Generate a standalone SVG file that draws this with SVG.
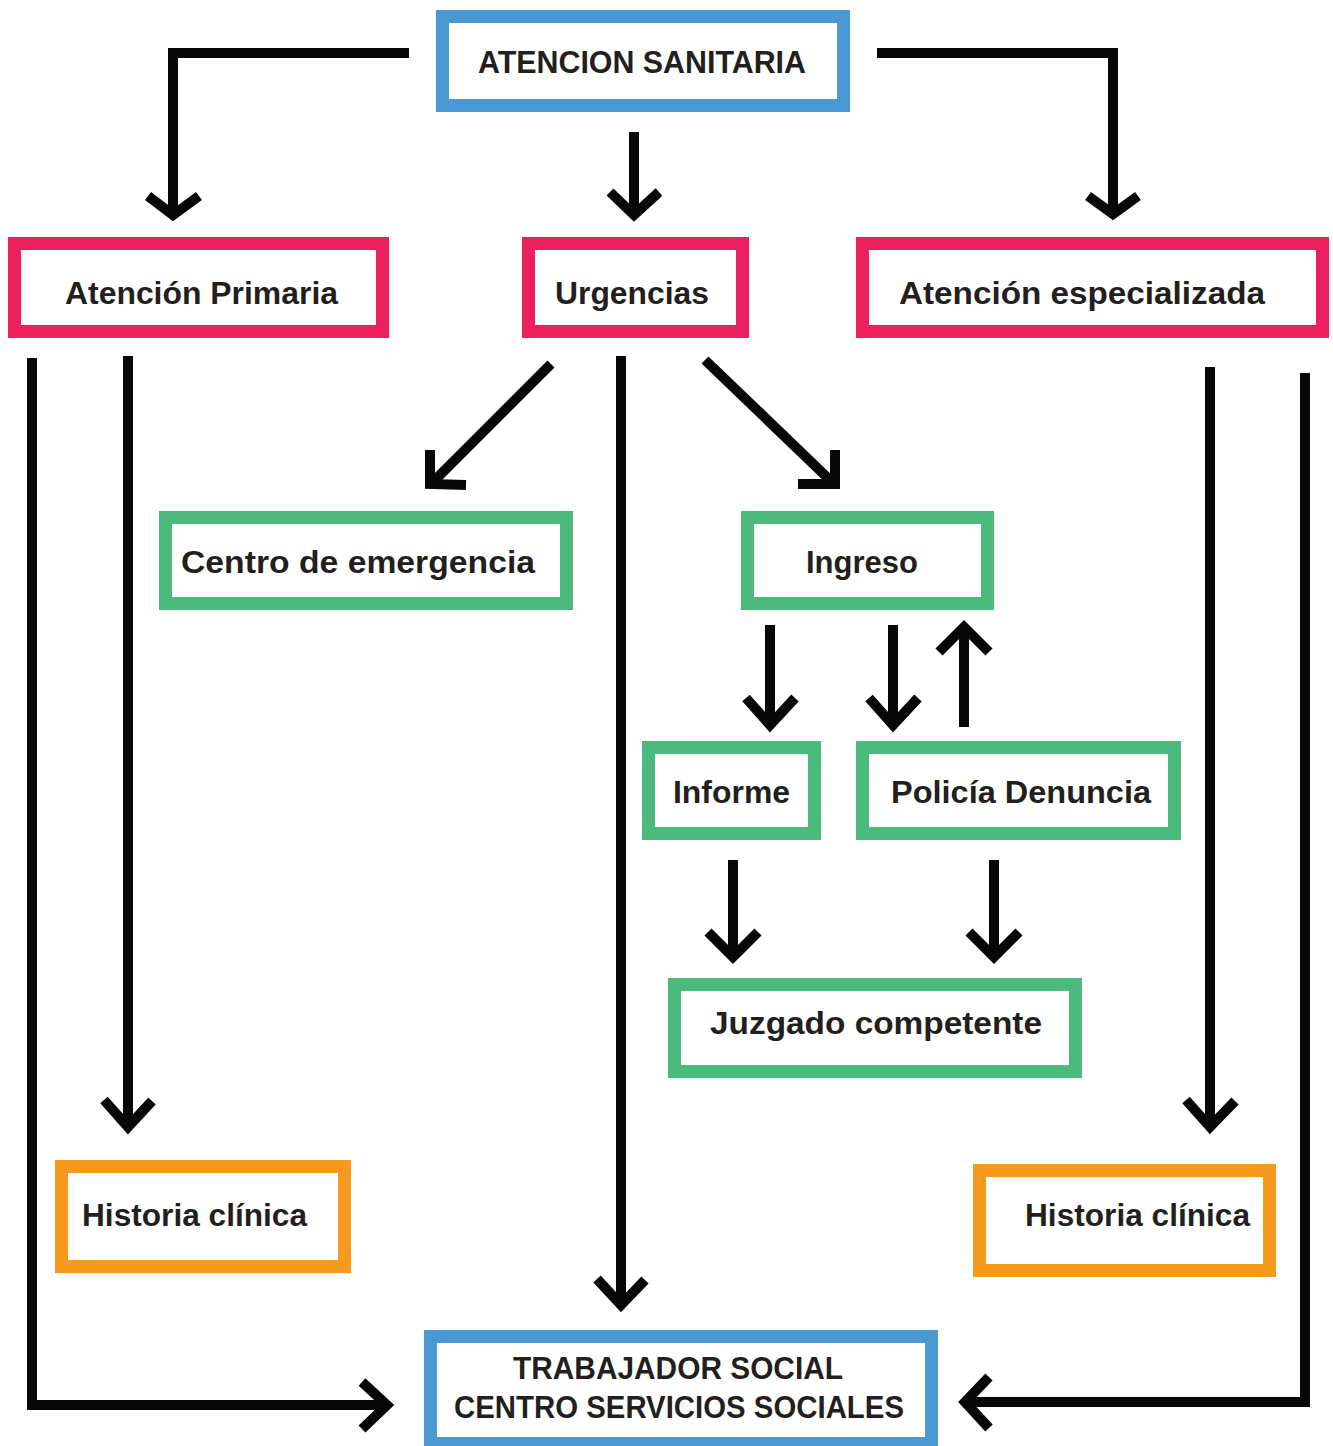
<svg xmlns="http://www.w3.org/2000/svg" width="1333" height="1446" viewBox="0 0 1333 1446">
<style>
.box{fill:#fff;stroke-width:13}
.blue{stroke:#4A98D3}
.pink{stroke:#EC1F5F}
.green{stroke:#4BBA7C}
.orange{stroke:#F7991F}
.t{font-family:"Liberation Sans",Arial,sans-serif;font-weight:bold;font-size:31px;fill:#231F20;text-anchor:middle}
.c{fill:none;stroke:#070707;stroke-width:10;stroke-linejoin:miter;stroke-linecap:butt}
</style>
<rect width="1333" height="1446" fill="#fff"/>
<g id="connectors">
  <path class="c" d="M409,53 H173 V214"/>
  <path class="c" d="M148,196 L173,215 L199,196"/>
  <path class="c" d="M634,132 V214"/>
  <path class="c" d="M610,192 L634,215 L659,192"/>
  <path class="c" d="M877,53 H1113 V213"/>
  <path class="c" d="M1088,196 L1113,214 L1138,196"/>
  <path class="c" d="M32,358 V1405 H386"/>
  <path class="c" d="M362,1382 L387,1405 L362,1429"/>
  <path class="c" d="M128,356 V1126"/>
  <path class="c" d="M104,1100 L128,1127 L152,1101"/>
  <path class="c" d="M551,364 L432,483"/>
  <path class="c" d="M430,450 V484 L466,485"/>
  <path class="c" d="M621,356 V1304"/>
  <path class="c" d="M597,1279 L621,1305 L645,1280"/>
  <path class="c" d="M705,360 L832,482"/>
  <path class="c" d="M835,450 V484 L798,484"/>
  <path class="c" d="M770,625 V724"/>
  <path class="c" d="M746,698 L770,725 L795,698"/>
  <path class="c" d="M893,625 V724"/>
  <path class="c" d="M869,698 L893,725 L918,698"/>
  <path class="c" d="M964,727 V628"/>
  <path class="c" d="M939,652 L964,627 L989,652"/>
  <path class="c" d="M733,860 V956"/>
  <path class="c" d="M708,932 L733,957 L758,932"/>
  <path class="c" d="M994,860 V956"/>
  <path class="c" d="M969,932 L994,957 L1019,932"/>
  <path class="c" d="M1210,367 V1126"/>
  <path class="c" d="M1186,1100 L1210,1127 L1235,1101"/>
  <path class="c" d="M1305,373 V1402 H966"/>
  <path class="c" d="M989,1377 L965,1402 L989,1428"/>
</g>
<g id="atencion-sanitaria">
  <rect class="box blue" x="442.5" y="16.5" width="401" height="89"/>
  <text class="t" x="642" y="73" textLength="328" lengthAdjust="spacingAndGlyphs">ATENCION SANITARIA</text>
</g>
<g id="atencion-primaria">
  <rect class="box pink" x="14.5" y="243.5" width="368" height="88"/>
  <text class="t" x="201.5" y="304" textLength="273" lengthAdjust="spacingAndGlyphs">Atención Primaria</text>
</g>
<g id="urgencias">
  <rect class="box pink" x="528.5" y="243.5" width="214" height="88"/>
  <text class="t" x="632" y="304" textLength="154" lengthAdjust="spacingAndGlyphs">Urgencias</text>
</g>
<g id="atencion-especializada">
  <rect class="box pink" x="862.5" y="243.5" width="460" height="88"/>
  <text class="t" x="1082" y="304" textLength="366" lengthAdjust="spacingAndGlyphs">Atención especializada</text>
</g>
<g id="centro-emergencia">
  <rect class="box green" x="165.5" y="517.5" width="401" height="86"/>
  <text class="t" x="358" y="573" textLength="354" lengthAdjust="spacingAndGlyphs">Centro de emergencia</text>
</g>
<g id="ingreso">
  <rect class="box green" x="747.5" y="517.5" width="240" height="86"/>
  <text class="t" x="862" y="573" textLength="112" lengthAdjust="spacingAndGlyphs">Ingreso</text>
</g>
<g id="informe">
  <rect class="box green" x="648.5" y="747.5" width="166" height="86"/>
  <text class="t" x="731.5" y="803" textLength="117" lengthAdjust="spacingAndGlyphs">Informe</text>
</g>
<g id="policia-denuncia">
  <rect class="box green" x="862.5" y="747.5" width="312" height="86"/>
  <text class="t" x="1021" y="803" textLength="260" lengthAdjust="spacingAndGlyphs">Policía Denuncia</text>
</g>
<g id="juzgado-competente">
  <rect class="box green" x="674.5" y="984.5" width="401" height="87"/>
  <text class="t" x="876" y="1034" textLength="332" lengthAdjust="spacingAndGlyphs">Juzgado competente</text>
</g>
<g id="historia-clinica-1">
  <rect class="box orange" x="61.5" y="1166.5" width="283" height="100"/>
  <text class="t" x="194.5" y="1226" textLength="225" lengthAdjust="spacingAndGlyphs">Historia clínica</text>
</g>
<g id="historia-clinica-2">
  <rect class="box orange" x="979.5" y="1170.5" width="290" height="100"/>
  <text class="t" x="1137.5" y="1226" textLength="225" lengthAdjust="spacingAndGlyphs">Historia clínica</text>
</g>
<g id="trabajador-social">
  <rect class="box blue" x="430.5" y="1336.5" width="501" height="107"/>
  <text class="t" x="678" y="1379" textLength="330" lengthAdjust="spacingAndGlyphs">TRABAJADOR SOCIAL</text>
  <text class="t" x="679" y="1418" textLength="450" lengthAdjust="spacingAndGlyphs">CENTRO SERVICIOS SOCIALES</text>
</g>
</svg>
